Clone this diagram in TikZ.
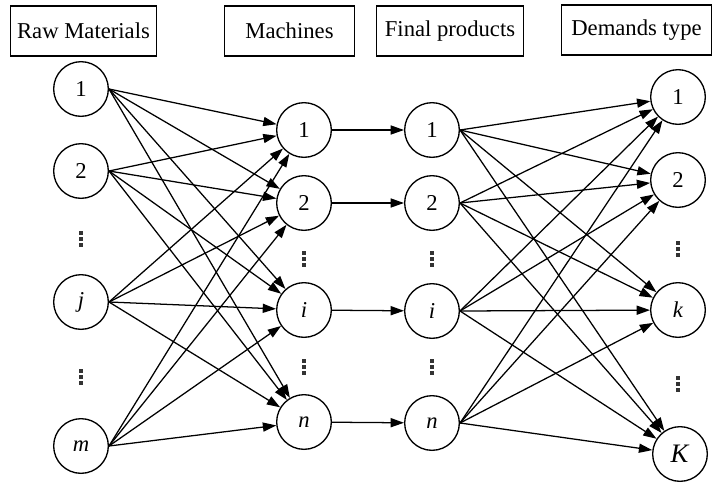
\documentclass[tikz,border=0pt]{standalone}
\usepackage{fontspec}
\setmainfont{Liberation Serif}
\usetikzlibrary{arrows.meta}
\begin{document}
\begin{tikzpicture}[x=0.75pt,y=-0.75pt,
  hdr/.style={draw,line width=0.9pt,minimum height=37.5pt,inner sep=0pt,
    font=\fontsize{17}{19}\selectfont},
  nd/.style={draw,circle,line width=1pt,minimum size=41pt,inner sep=0pt,
    font=\fontsize{17}{19}\selectfont},
  arr/.style={line width=0.95pt,-{Triangle[length=10pt,width=6.8pt]}},
  vdot/.style={fill=black!80},
]
\useasboundingbox (0,0) rectangle (713,482);

% column headings
\node[hdr,minimum width=110pt] (hraw) at (83.5,31) {Raw Materials};
\node[hdr,minimum width=97pt]  (hmac) at (289.5,31) {Machines};
\node[hdr,minimum width=110pt] (hfin) at (450,31) {Final products};
\node[hdr,minimum width=112pt] (hdem) at (636.5,30) {Demands type};

% raw materials
\node[nd] (r1) at (81,89)  {1};
\node[nd] (r2) at (81,171) {2};
\node[nd] (rj) at (81,302) {\textit{j}};
\node[nd] (rm) at (81,446) {\textit{m}};

% machines
\node[nd] (m1) at (304,130) {1};
\node[nd] (m2) at (304,203) {2};
\node[nd] (mi) at (304,310) {\textit{i}};
\node[nd] (mn) at (304,422) {\textit{n}};

% final products
\node[nd] (f1) at (432,130) {1};
\node[nd] (f2) at (432,203) {2};
\node[nd] (fi) at (432,311) {\textit{i}};
\node[nd] (fn) at (432,423) {\textit{n}};

% demand types
\node[nd] (d1) at (678,97)  {1};
\node[nd] (d2) at (678,180) {2};
\node[nd] (dk) at (678,310) {\textit{k}};
\node[nd,font=\fontsize{20}{22}\selectfont] (dK) at (680,454) {\textit{K}};

% vertical ellipses between nodes
\foreach \x/\y in {81/239, 81/377, 304/259, 304/367, 432/259, 432/367, 678/249, 678/384}
  \foreach \d in {-6,0,6}
    \fill[vdot] (\x-1.8,\y+\d-1.8) rectangle (\x+1.8,\y+\d+1.8);

% raw materials to machines
\foreach \s in {r1,r2,rj,rm}
  \foreach \t in {m1,m2,mi,mn}
    \draw[arr] (\s.east) -- (\t);

% machines to final products
\draw[arr] (m1) -- (f1);
\draw[arr] (m2) -- (f2);
\draw[arr] (mi) -- (fi);
\draw[arr] (mn) -- (fn);

% final products to demand types
\foreach \s in {f1,f2,fi,fn}
  \foreach \t in {d1,d2,dk,dK}
    \draw[arr] (\s.east) -- (\t);
\end{tikzpicture}
\end{document}
